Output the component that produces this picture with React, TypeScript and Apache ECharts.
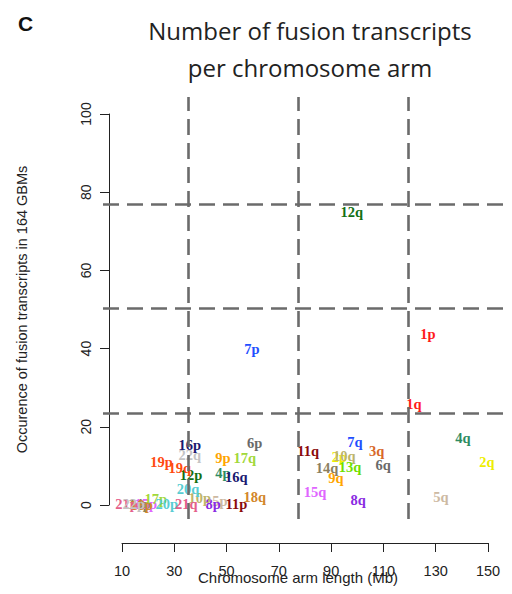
import React, { useEffect, useRef } from "react";
import * as echarts from "echarts";

// Chromosome arms, their length (Mb) and number of fusion transcripts (164 GBMs)
const arms = [
  "1p", "1q", "2p", "2q", "3q", "4p", "4q", "5p", "5q", "6p", "6q", "7p", "7q",
  "8p", "8q", "9p", "9q", "10p", "10q", "11p", "11q", "12p", "12q", "13q", "14p",
  "14q", "15p", "15q", "16p", "16q", "17p", "17q", "18p", "18q", "19p", "19q",
  "20p", "20q", "21p", "21q", "22p", "22q",
];
const armLength = [
  127.0, 121.6, 93.2, 149.5, 107.4, 48.7, 140.3, 47.5, 131.9, 60.8, 109.9, 59.7, 99.1,
  44.9, 100.3, 48.7, 91.8, 39.8, 95.0, 53.8, 81.2, 36.5, 97.9, 97.2, 16.8,
  88.4, 19.2, 83.8, 36.0, 53.8, 23.0, 57.0, 17.6, 60.8, 25.2, 32.2,
  27.2, 35.3, 11.8, 34.7, 14.6, 36.0,
];
const fusionCount = [
  43.7, 25.8, 12.4, 11.0, 13.9, 8.1, 17.1, 0.9, 2.0, 15.8, 10.2, 39.9, 16.2,
  0.3, 1.3, 11.9, 6.9, 1.7, 12.5, 0.3, 13.9, 7.8, 74.9, 9.8, 0.3,
  9.5, 0.3, 3.4, 15.3, 7.2, 1.6, 11.9, 0.0, 2.1, 11.1, 9.4,
  0.3, 4.0, 0.3, 0.3, 0.3, 12.8,
];
// colour per chromosome (1..22)
const chromColors = [
  "#ff1a1a", "#eeee00", "#d8692a", "#2e8b62", "#cdb9a2", "#6a6a6a", "#1f4fff",
  "#8a2be2", "#ffa500", "#bdb56b", "#8b0a0a", "#137013", "#6fe000", "#8b8060",
  "#e066ff", "#191970", "#a2d83a", "#d2862a", "#ff4a10", "#58cdd2", "#e5608a",
  "#c4c4c4",
];

// Threshold (dashed) lines
const vLines = [35.3, 77.4, 119.4];
const hLines = [23.5, 50.2, 77.0];

// Axis ticks
const xTicks = { min: 10, max: 150, interval: 20 };
const yTicks = { min: 0, max: 100, interval: 20 };

const title = "Number of fusion transcripts\nper chromosome arm";
const xName = "Chromosome arm length (Mb)";
const yName = "Occurence of fusion transcripts in 164 GBMs";

export default function App() {
  const ref = useRef<HTMLDivElement>(null);

  useEffect(() => {
    if (!ref.current) return;
    const chart = echarts.init(ref.current, null, { renderer: "svg" });

    const pts = arms.map((a, i) => {
      const chr = parseInt(a, 10);
      const c = chromColors[chr - 1];
      return {
        name: a,
        value: [armLength[i], fusionCount[i]],
        itemStyle: { color: c },
        label: { color: c },
      };
    });

    const axisColor = "#222";

    chart.setOption({
      animation: false,
      backgroundColor: "#fff",
      title: [
        {
          text: title,
          left: 305,
          top: 7,
          textAlign: "center",
          textStyle: {
            fontFamily: "Open Sans",
            fontSize: 24,
            fontWeight: "normal",
            color: "#222",
            lineHeight: 37,
          },
        },
        {
          text: "C",
          left: 13,
          top: 8,
          textStyle: {
            fontFamily: "Liberation Sans",
            fontSize: 21,
            fontWeight: "bold",
            color: "#111",
          },
        },
        {
          text: xName,
          left: 298,
          top: 570,
          textAlign: "center",
          padding: 0,
          textStyle: {
            fontFamily: "Liberation Sans",
            fontSize: 15,
            fontWeight: "normal",
            color: "#222",
            lineHeight: 15,
          },
        },
      ],
      grid: [
        // main plotting region (data + threshold lines)
        { left: 103, right: 7, top: 97, bottom: 75 },
        // visible y axis (0..100)
        { left: 109, right: 7, top: 114, bottom: 89 },
        // visible x axis (10..150), detached below
        { left: 122, right: 24, top: 542, height: 1 },
      ],
      xAxis: [
        { gridIndex: 0, type: "value", min: 2.86, max: 156.4, show: false },
        { gridIndex: 1, type: "value", min: 0, max: 1, show: false },
        {
          gridIndex: 2,
          type: "value",
          min: xTicks.min,
          max: xTicks.max,
          interval: xTicks.interval,
          position: "bottom",
          axisLine: { show: true, lineStyle: { color: axisColor, width: 1 } },
          axisTick: { show: true, length: 9, lineStyle: { color: axisColor } },
          axisLabel: {
            margin: 20,
            fontFamily: "Liberation Sans",
            fontSize: 14.5,
            color: "#222",
          },
          splitLine: { show: false },
        },
      ],
      yAxis: [
        { gridIndex: 0, type: "value", min: -3.58, max: 104.35, show: false },
        {
          gridIndex: 1,
          type: "value",
          min: yTicks.min,
          max: yTicks.max,
          interval: yTicks.interval,
          position: "left",
          axisLine: { show: true, lineStyle: { color: axisColor, width: 1 } },
          axisTick: { show: true, length: 9, lineStyle: { color: axisColor } },
          axisLabel: {
            rotate: 90,
            margin: 16,
            fontFamily: "Liberation Sans",
            fontSize: 14,
            color: "#222",
          },
          splitLine: { show: false },
          name: yName,
          nameLocation: "middle",
          nameGap: 80,
          nameTextStyle: {
            fontFamily: "Liberation Sans",
            fontSize: 14.5,
            color: "#222",
          },
        },
        { gridIndex: 2, type: "value", min: 0, max: 1, show: false },
      ],
      series: [
        {
          type: "scatter",
          xAxisIndex: 0,
          yAxisIndex: 0,
          symbolSize: 0,
          z: 2,
          label: {
            show: true,
            position: "inside",
            formatter: "{b}",
            fontFamily: "Liberation Serif",
            fontWeight: "bold",
            fontSize: 14.5,
            textBorderWidth: 0,
            textBorderColor: "transparent",
            opacity: 1,
          },
          labelLayout: { hideOverlap: false },
          data: pts,
          silent: true,
        },
        {
          type: "line",
          xAxisIndex: 0,
          yAxisIndex: 0,
          data: [],
          z: 10,
          silent: true,
          markLine: {
            silent: true,
            symbol: ["none", "none"],
            label: { show: false },
            lineStyle: { type: [16, 8], color: "#6b6b6b", width: 2.6 },
            data: [
              ...vLines.map((v) => ({ xAxis: v })),
              ...hLines.map((v) => ({ yAxis: v })),
            ],
          },
        },
      ],
    });

    return () => chart.dispose();
  }, []);

  return <div ref={ref} style={{ width: 512, height: 594, margin: -8 }} />;
}
